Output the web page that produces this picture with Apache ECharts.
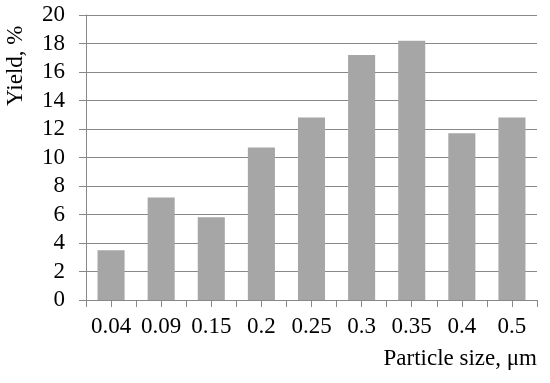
<!DOCTYPE html>
<html><head><meta charset="utf-8">
<script src="https://cdn.jsdelivr.net/npm/echarts@6/dist/echarts.min.js"></script>
<style>html,body{margin:0;padding:0;background:#fff}#c{width:550px;height:383px}</style>
</head><body><div id="c"></div>
<script>
const categories = ['0.04','0.09','0.15','0.2','0.25','0.3','0.35','0.4','0.5'];
const yieldValues = [3.5, 7.2, 5.8, 10.7, 12.8, 17.2, 18.2, 11.7, 12.8];
const yTitle = 'Yield, %';
const xTitle = 'Particle size, μm';
const font = '"Liberation Serif", "Times New Roman", serif';
const gray = '#888888';
const chart = echarts.init(document.getElementById('c'));
chart.setOption({
  animation: false,
  backgroundColor: '#fff',
  grid: {left: 86, right: 13, top: 15, bottom: 83},
  xAxis: [{
    type: 'category', data: categories, position: 'bottom',
    axisLine: {lineStyle: {color: gray, width: 1}},
    axisTick: {show: true, interval: 0, length: 7, lineStyle: {color: gray}},
    axisLabel: {color: '#000', fontFamily: font, fontSize: 23, margin: 15, interval: 0}
  }, {
    type: 'category', data: categories, position: 'bottom',
    axisLine: {show: false},
    axisTick: {show: true, alignWithLabel: true, interval: 0, length: 7, lineStyle: {color: gray}},
    axisLabel: {show: false}
  }],
  yAxis: {
    type: 'value', min: 0, max: 20, interval: 2,
    axisLine: {show: true, lineStyle: {color: gray}},
    axisTick: {show: true, length: 7, lineStyle: {color: gray}},
    splitLine: {lineStyle: {color: gray, width: 1}},
    axisLabel: {color: '#000', fontFamily: font, fontSize: 23, margin: 21}
  },
  series: [{
    type: 'bar', data: yieldValues, barWidth: '54%',
    itemStyle: {color: '#a6a6a6'}
  }],
  graphic: [{
    type: 'text', right: 13, top: 347,
    style: {text: xTitle, fontFamily: font, fontSize: 23, fill: '#000'}
  }, {
    type: 'text', x: 4, y: 106, rotation: Math.PI / 2,
    style: {text: yTitle, fontFamily: font, fontSize: 23, fill: '#000', textAlign: 'left', textVerticalAlign: 'top'}
  }]
});
</script></body></html>
